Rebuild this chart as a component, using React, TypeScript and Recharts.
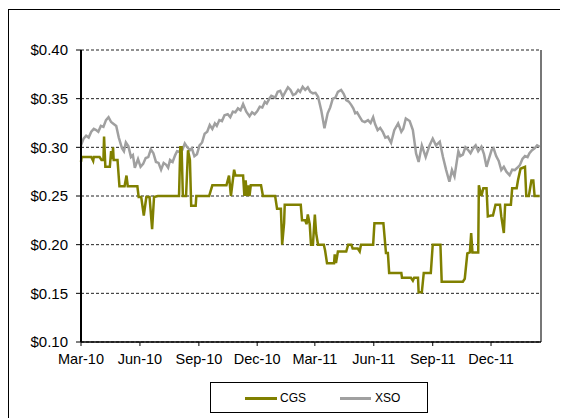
import React from "react";
import {
  LineChart,
  Line,
  XAxis,
  YAxis,
  CartesianGrid,
  ReferenceLine,
} from "recharts";

// days counted from 1 Mar 2010
const tickDays = [0, 92, 184, 275, 365, 457, 549, 640];
const tickLabels = ["Mar-10", "Jun-10", "Sep-10", "Dec-10", "Mar-11", "Jun-11", "Sep-11", "Dec-11"];
const priceTicks = [0.1, 0.15, 0.2, 0.25, 0.3, 0.35, 0.4];

const cgsDays = [
  0, 1, 16, 19, 20, 29, 32, 35, 36, 38, 45, 47, 49, 50, 51, 57, 60, 68, 71, 73,
  88, 90, 94, 98, 102, 107, 111, 114, 120, 153, 155, 157, 159, 164, 167, 170, 172, 179, 180, 200,
  205, 227, 231, 234, 239, 241, 253, 255, 257, 259, 261, 263, 265, 281, 284, 303, 306, 312, 314, 317,
  318, 343, 345, 350, 352, 354, 357, 359, 362, 365, 367, 370, 379, 381, 384, 395, 396, 398, 401, 414,
  417, 422, 424, 432, 435, 437, 456, 458, 472, 476, 479, 481, 500, 501, 515, 518, 520, 526, 527, 532,
  535, 546, 549, 561, 563, 596, 599, 603, 607, 609, 611, 620, 621, 625, 628, 633, 635, 640, 643, 647,
  654, 656, 660, 662, 671, 673, 680, 682, 686, 693, 695, 699, 703, 706, 708, 716,
];
const cgsValues = [
  0.285, 0.29, 0.29, 0.286, 0.29, 0.29, 0.287, 0.287, 0.311, 0.28, 0.28, 0.296, 0.288, 0.3, 0.287, 0.287, 0.26, 0.26, 0.271, 0.26,
  0.26, 0.249, 0.249, 0.23, 0.249, 0.249, 0.216, 0.249, 0.25, 0.25, 0.3, 0.3, 0.25, 0.25, 0.297, 0.287, 0.24, 0.24, 0.25, 0.25,
  0.261, 0.261, 0.271, 0.25, 0.277, 0.271, 0.271, 0.25, 0.266, 0.25, 0.261, 0.25, 0.261, 0.261, 0.25, 0.25, 0.237, 0.237, 0.2, 0.222,
  0.241, 0.241, 0.225, 0.225, 0.221, 0.231, 0.221, 0.2, 0.2, 0.231, 0.212, 0.2, 0.2, 0.194, 0.181, 0.181, 0.19, 0.181, 0.193, 0.193,
  0.2, 0.2, 0.196, 0.196, 0.193, 0.2, 0.2, 0.222, 0.222, 0.1915, 0.1915, 0.171, 0.171, 0.166, 0.166, 0.163, 0.166, 0.166, 0.151, 0.151,
  0.171, 0.171, 0.2, 0.2, 0.162, 0.162, 0.165, 0.191, 0.192, 0.212, 0.192, 0.192, 0.261, 0.25, 0.258, 0.258, 0.229, 0.23, 0.23, 0.241,
  0.241, 0.229, 0.212, 0.241, 0.241, 0.258, 0.258, 0.266, 0.278, 0.28, 0.25, 0.25, 0.266, 0.266, 0.25, 0.25,
];

const xsoDays = [
  0, 4, 8, 12, 16, 20, 23, 27, 31, 35, 39, 43, 47, 51, 55, 59, 64, 67, 70, 74,
  78, 81, 84, 89, 93, 97, 101, 105, 109, 113, 117, 121, 125, 129, 133, 136, 139, 143, 147, 150,
  154, 158, 162, 166, 170, 173, 177, 181, 185, 189, 193, 197, 201, 205, 209, 212, 216, 220, 224, 229,
  233, 237, 241, 245, 249, 253, 258, 263, 267, 271, 275, 279, 283, 287, 290, 294, 297, 300, 303, 307,
  311, 315, 319, 323, 327, 331, 335, 339, 342, 346, 350, 354, 358, 362, 366, 370, 375, 380, 385, 389,
  393, 397, 401, 406, 410, 414, 418, 422, 425, 428, 431, 435, 439, 443, 448, 452, 456, 459, 463, 467,
  471, 475, 479, 484, 489, 495, 500, 503, 507, 513, 518, 523, 527, 532, 538, 544, 549, 554, 560, 565,
  570, 575, 579, 583, 589, 592, 596, 600, 604, 608, 612, 616, 620, 625, 629, 633, 637, 641, 644, 648,
  652, 656, 660, 664, 669, 673, 677, 681, 685, 689, 693, 697, 700, 704, 708, 712, 716,
];
const xsoValues = [
  0.302, 0.309, 0.312, 0.31, 0.316, 0.319, 0.318, 0.316, 0.322, 0.321, 0.328, 0.331, 0.326, 0.324, 0.322, 0.31, 0.299, 0.296, 0.305, 0.301,
  0.29, 0.292, 0.279, 0.288, 0.28, 0.283, 0.289, 0.29, 0.298, 0.294, 0.285, 0.284, 0.277, 0.284, 0.282, 0.279, 0.287, 0.285, 0.292, 0.296,
  0.2954, 0.297, 0.304, 0.3, 0.297, 0.299, 0.291, 0.293, 0.302, 0.305, 0.314, 0.316, 0.323, 0.319, 0.3246, 0.322, 0.328, 0.327, 0.333, 0.334,
  0.331, 0.3366, 0.336, 0.34, 0.338, 0.3445, 0.3366, 0.332, 0.336, 0.334, 0.337, 0.3417, 0.341, 0.3468, 0.345, 0.35, 0.353, 0.352, 0.351, 0.357,
  0.358, 0.352, 0.357, 0.3616, 0.359, 0.3537, 0.355, 0.359, 0.357, 0.3623, 0.359, 0.3616, 0.357, 0.3555, 0.356, 0.352, 0.338, 0.3195, 0.335, 0.341,
  0.35, 0.351, 0.357, 0.359, 0.355, 0.3486, 0.347, 0.3434, 0.34, 0.335, 0.336, 0.3314, 0.327, 0.326, 0.328, 0.325, 0.331, 0.324, 0.3177, 0.32,
  0.316, 0.31, 0.311, 0.3047, 0.3177, 0.3246, 0.316, 0.319, 0.3297, 0.327, 0.3177, 0.2937, 0.285, 0.302, 0.29, 0.302, 0.309, 0.302, 0.3057, 0.29,
  0.2766, 0.2646, 0.2766, 0.27, 0.296, 0.291, 0.2925, 0.3, 0.2975, 0.294, 0.299, 0.302, 0.296, 0.3006, 0.293, 0.28, 0.289, 0.2975, 0.299, 0.291,
  0.286, 0.2766, 0.28, 0.275, 0.2714, 0.277, 0.2766, 0.279, 0.2817, 0.288, 0.291, 0.29, 0.294, 0.297, 0.299, 0.302, 0.3006,
];

type Row = { day: number; cgs?: number; xso?: number };

const buildRows = (): Row[] => {
  const byDay = new Map<number, Row>();
  const get = (d: number) => {
    if (!byDay.has(d)) byDay.set(d, { day: d });
    return byDay.get(d)!;
  };
  cgsDays.forEach((d, i) => (get(d).cgs = cgsValues[i]));
  xsoDays.forEach((d, i) => (get(d).xso = xsoValues[i]));
  return Array.from(byDay.values()).sort((a, b) => a.day - b.day);
};

const rows = buildRows();
const FONT = "'Liberation Sans', Arial, sans-serif";
const CGS_COLOR = "#808000";
const XSO_COLOR = "#a0a0a0";

const App = () => {
  return (
    <div style={{ position: "relative", width: 560, height: 410, fontFamily: FONT }}>
      <div
        style={{
          position: "absolute",
          left: 0,
          top: 1,
          width: 560,
          height: 409,
          borderLeft: "1px solid #000",
          borderTop: "1px solid #000",
          boxSizing: "border-box",
        }}
      />
      <LineChart
        width={560}
        height={410}
        data={rows}
        margin={{ top: 42, right: 27, left: 0, bottom: 46 }}
        style={{ position: "absolute", left: 0, top: 0 }}
      >
        <CartesianGrid vertical={false} stroke="#222" strokeDasharray="3 2" />
        <XAxis
          dataKey="day"
          type="number"
          domain={[0, 718]}
          ticks={tickDays}
          tickFormatter={(d: number) => tickLabels[tickDays.indexOf(d)] ?? ""}
          height={30}
          tickSize={4}
          tickMargin={8}
          axisLine={{ stroke: "#000", strokeWidth: 1.5 }}
          tickLine={{ stroke: "#000" }}
          tick={{ fill: "#000", fontSize: 14.5, fontFamily: FONT }}
          interval={0}
        />
        <YAxis
          type="number"
          domain={[0.1, 0.4]}
          ticks={priceTicks}
          tickFormatter={(v: number) => `$${v.toFixed(2)}`}
          width={73}
          tickSize={5}
          tickMargin={8}
          axisLine={{ stroke: "#000", strokeWidth: 2 }}
          tickLine={{ stroke: "#000" }}
          tick={{ fill: "#000", fontSize: 15, fontFamily: FONT }}
          interval={0}
        />
        <ReferenceLine x={718} stroke="#777" strokeWidth={2} />
        <Line
          dataKey="xso"
          type="linear"
          stroke={XSO_COLOR}
          strokeWidth={2.5}
          dot={false}
          connectNulls
          isAnimationActive={false}
        />
        <Line
          dataKey="cgs"
          type="linear"
          stroke={CGS_COLOR}
          strokeWidth={2.5}
          dot={false}
          connectNulls
          isAnimationActive={false}
        />
      </LineChart>
      <div
        style={{
          position: "absolute",
          left: 202,
          top: 374,
          width: 218,
          height: 31,
          border: "1px solid #000",
          boxSizing: "border-box",
          fontSize: 12,
          color: "#000",
        }}
      >
        <div style={{ position: "absolute", left: 34, top: 14, width: 32, height: 3, background: CGS_COLOR }} />
        <div style={{ position: "absolute", left: 69, top: 8 }}>CGS</div>
        <div style={{ position: "absolute", left: 129, top: 14, width: 31, height: 3, background: XSO_COLOR }} />
        <div style={{ position: "absolute", left: 164, top: 8 }}>XSO</div>
      </div>
    </div>
  );
};

export default App;
